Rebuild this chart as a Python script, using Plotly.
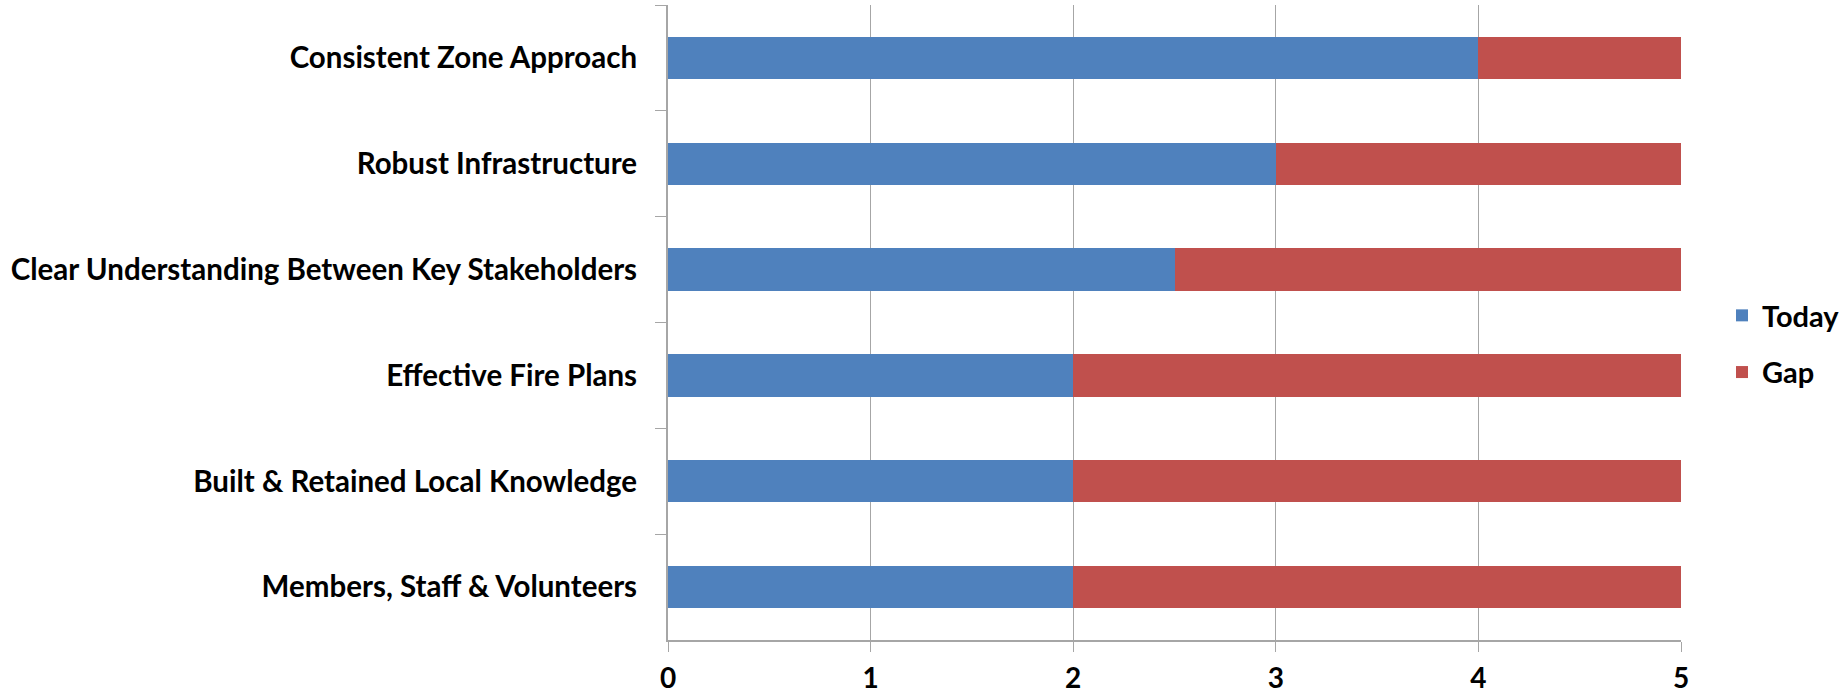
import plotly.graph_objects as go

categories = [
    "Consistent Zone Approach",
    "Robust Infrastructure",
    "Clear Understanding Between Key Stakeholders",
    "Effective Fire Plans",
    "Built & Retained Local Knowledge",
    "Members, Staff & Volunteers",
]
today = [4, 3, 2.5, 2, 2, 2]
gap = [1, 2, 2.5, 3, 3, 3]
x_ticks = [0, 1, 2, 3, 4, 5]

W, H = 1844, 696
L, R, T, B = 668, W - 1681, 5, H - 640

FONT = "Lato"

fig = go.Figure()
fig.add_trace(go.Bar(y=categories, x=today, orientation="h", name="Today",
                     marker=dict(color="#4F81BD", line=dict(width=0)),
                     legendgroup="a"))
fig.add_trace(go.Bar(y=categories, x=gap, orientation="h", name="Gap",
                     marker=dict(color="#C0504D", line=dict(width=0)),
                     legendgroup="b"))

fig.update_layout(
    width=W, height=H,
    barmode="stack", bargap=0.6,
    margin=dict(l=L, r=R, t=T, b=B, pad=0, autoexpand=False),
    plot_bgcolor="white", paper_bgcolor="white",
    font=dict(family=FONT, size=29, color="black"),
    legend=dict(
        x=1722 / W, xref="container", xanchor="left",
        y=1 - 290 / H, yref="container", yanchor="top",
        font=dict(family=FONT, size=29, color="black", weight="bold"),
        tracegroupgap=16, bgcolor="rgba(0,0,0,0)",
    ),
    xaxis=dict(
        range=[0, 5], tickvals=x_ticks, ticktext=[str(v) for v in x_ticks],
        showgrid=True, gridcolor="#a6a6a6", gridwidth=1.3,
        showline=True, linecolor="#a6a6a6", linewidth=2,
        ticks="outside", ticklen=10, tickcolor="#a6a6a6", tickwidth=1.3,
        zeroline=False, automargin=False,
        tickfont=dict(family=FONT, size=28, color="black", weight="bold"),
        ticklabelstandoff=2,
    ),
    yaxis=dict(
        autorange="reversed", type="category",
        showgrid=False, showline=True, linecolor="#a6a6a6", linewidth=2,
        ticks="outside", tickson="boundaries", ticklen=11,
        tickcolor="#a6a6a6", tickwidth=1.3, automargin=False,
        tickfont=dict(family=FONT, size=29.5, color="black", weight="bold"),
        ticklabelstandoff=23,
    ),
)

fig.write_html("out.html")
